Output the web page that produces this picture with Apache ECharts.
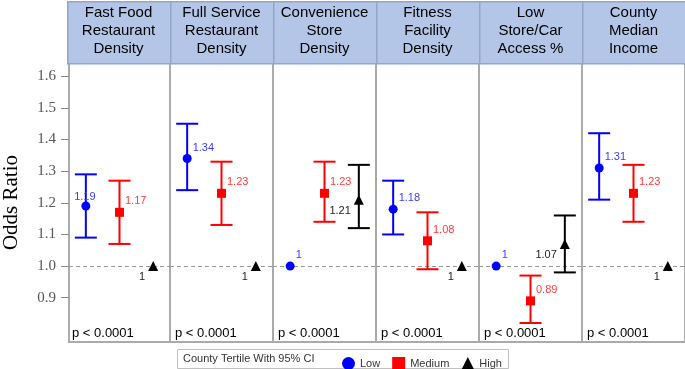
<!DOCTYPE html>
<html>
<head>
<meta charset="utf-8">
<script src="https://cdn.jsdelivr.net/npm/echarts@6/dist/echarts.min.js"></script>
<style>
  html, body { margin: 0; padding: 0; background: #fff; }
  #chart { width: 685px; height: 369px; }
</style>
</head>
<body>
<div id="chart"></div>
<script>
// panel titles (one per predictor)
var panels = [
    "Fast Food\nRestaurant\nDensity",
    "Full Service\nRestaurant\nDensity",
    "Convenience\nStore\nDensity",
    "Fitness\nFacility\nDensity",
    "Low\nStore/Car\nAccess %",
    "County\nMedian\nIncome"
];
var tertiles = ["Low", "Medium", "High"];

// odds ratios and 95% CI per tertile, one entry per panel
var lowOR   = [1.19, 1.34, 1,    1.18, 1,    1.31];
var lowLCL  = [1.09, 1.24, null, 1.10, null, 1.21];
var lowUCL  = [1.29, 1.45, null, 1.27, null, 1.42];
var medOR   = [1.17, 1.23, 1.23, 1.08, 0.89, 1.23];
var medLCL  = [1.07, 1.13, 1.14, 0.99, 0.82, 1.14];
var medUCL  = [1.27, 1.33, 1.33, 1.17, 0.97, 1.32];
var highOR  = [1,    1,    1.21, 1,    1.07, 1];
var highLCL = [null, null, 1.12, null, 0.98, null];
var highUCL = [null, null, 1.32, null, 1.16, null];

var pValues = ["p < 0.0001", "p < 0.0001", "p < 0.0001", "p < 0.0001", "p < 0.0001", "p < 0.0001"];
var yTicks = [0.9, 1.0, 1.1, 1.2, 1.3, 1.4, 1.5, 1.6];
var legendTitle = "County Tertile With 95% CI";

// layout
var plotLeft = 67, panelW = 103, plotTop = 63, plotBottom = 342;
var colors = ["#0000ff", "#ff0000", "#000000"];
var labelColors = ["#3c3cff", "#ff3c3c", "#222222"];
var symbols = ["circle", "rect", "triangle"];
var symbolSizes = [9, 9, 10];

var orSets = [lowOR, medOR, highOR];
var lclSets = [lowLCL, medLCL, highLCL];
var uclSets = [lowUCL, medUCL, highUCL];

function labelFor(panel, t) {
    // SAS placed the first Low label over the bar
    if (panel === 0 && t === 0) {
        return { position: "inside", offset: [-1, -9] };
    }
    if (t === 2) {
        return { position: "left", distance: 3, offset: [0, 11] };
    }
    return { position: "right", distance: 1, offset: [0, -11] };
}

var grids = [], xAxes = [], yAxes = [], series = [], graphics = [];

panels.forEach(function (title, i) {
    var left = plotLeft + i * panelW;
    grids.push({
        left: left, top: plotTop, width: panelW, height: plotBottom - plotTop,
        show: true, backgroundColor: "#fff", borderColor: "#aaaaaa", borderWidth: 2
    });
    xAxes.push({
        gridIndex: i, type: "category", data: tertiles,
        axisLine: { show: false }, axisTick: { show: false }, axisLabel: { show: false }
    });
    yAxes.push({
        gridIndex: i, type: "value", min: 0.76, max: 1.642,
        splitLine: { show: false },
        axisLine: { show: false },
        axisTick: {
            show: i === 0, length: 8, customValues: yTicks,
            lineStyle: { color: "#888" }
        },
        axisLabel: {
            show: i === 0, customValues: yTicks, margin: 13,
            fontFamily: "Liberation Serif", fontSize: 15, color: "#555",
            formatter: function (v) { return v.toFixed(1); }
        },
        name: i === 0 ? "Odds Ratio" : "",
        nameLocation: "middle", nameGap: 47, nameRotate: 90,
        nameTextStyle: { fontFamily: "Liberation Serif", fontSize: 21, color: "#000" }
    });

    tertiles.forEach(function (tName, t) {
        var lcl = lclSets[t][i], ucl = uclSets[t][i];
        if (lcl != null) {
            series.push({
                type: "custom", name: tName + " CI",
                xAxisIndex: i, yAxisIndex: i,
                itemStyle: { color: colors[t] },
                data: [[t, lcl, ucl]],
                renderItem: function (params, api) {
                    var lo = api.coord([api.value(0), api.value(1)]);
                    var hi = api.coord([api.value(0), api.value(2)]);
                    var c = api.visual("color");
                    var st = { stroke: c, lineWidth: 2 };
                    var hw = 11;
                    return {
                        type: "group",
                        children: [
                            { type: "line", shape: { x1: lo[0], y1: lo[1], x2: hi[0], y2: hi[1] }, style: st },
                            { type: "line", shape: { x1: lo[0] - hw, y1: lo[1], x2: lo[0] + hw, y2: lo[1] }, style: st },
                            { type: "line", shape: { x1: hi[0] - hw, y1: hi[1], x2: hi[0] + hw, y2: hi[1] }, style: st }
                        ]
                    };
                }
            });
        }
        var lab = labelFor(i, t);
        var s = {
            type: "scatter", name: tName,
            xAxisIndex: i, yAxisIndex: i,
            symbol: symbols[t], symbolSize: symbolSizes[t],
            itemStyle: { color: colors[t], opacity: 1 },
            z: 3,
            data: [[t, orSets[t][i]]],
            label: {
                show: true, position: lab.position, distance: lab.distance,
                offset: lab.offset,
                fontFamily: "Liberation Sans", fontSize: 11, color: labelColors[t],
                formatter: function (p) { return String(p.value[1]); }
            },
            emphasis: { disabled: true }
        };
        if (t === 0) {
            s.markLine = {
                silent: true, symbol: "none", z: 1,
                label: { show: false },
                lineStyle: { color: "#999", type: [4, 3], width: 1 },
                data: [{ yAxis: 1 }]
            };
        }
        series.push(s);
    });

    // header strip
    graphics.push({
        type: "rect", left: left, top: 1, z: 10,
        shape: { width: panelW, height: plotTop - 1 },
        style: { fill: "#b4c6e7", stroke: "#93a5c9", lineWidth: 1.5 }
    });
    graphics.push({
        type: "text", x: left + panelW / 2, y: 31, z: 11,
        style: {
            text: title, align: "center", verticalAlign: "middle",
            font: "15px 'Liberation Sans', Arial, sans-serif", lineHeight: 18, fill: "#000"
        }
    });
    // p value
    graphics.push({
        type: "text", x: left + 5, y: 333, z: 11,
        style: {
            text: pValues[i], align: "left", verticalAlign: "middle",
            font: "13px 'Liberation Sans', Arial, sans-serif", fill: "#000"
        }
    });
});

// legend box and title
graphics.push({
    type: "rect", left: 177, top: 349, z: 0,
    shape: { width: 331, height: 19 },
    style: { fill: "#fff", stroke: "#c0c0c0", lineWidth: 1 }
});
graphics.push({
    type: "text", x: 183, y: 359, z: 11,
    style: {
        text: legendTitle, align: "left", verticalAlign: "middle",
        font: "11px 'Liberation Sans', Arial, sans-serif", fill: "#333"
    }
});

var chart = echarts.init(document.getElementById("chart"), null, { renderer: "canvas" });
chart.setOption({
    animation: false,
    grid: grids,
    xAxis: xAxes,
    yAxis: yAxes,
    series: series,
    graphic: graphics,
    legend: {
        selectedMode: false,
        left: 337, top: 352,
        itemWidth: 13, itemHeight: 13, itemGap: 12,
        textStyle: { fontFamily: "Liberation Sans", fontSize: 11, color: "#333" },
        data: tertiles.map(function (n, t) {
            return { name: n, icon: symbols[t], itemStyle: { color: colors[t] } };
        })
    }
});
window.addEventListener("resize", function () { chart.resize(); });
</script>
</body>
</html>
